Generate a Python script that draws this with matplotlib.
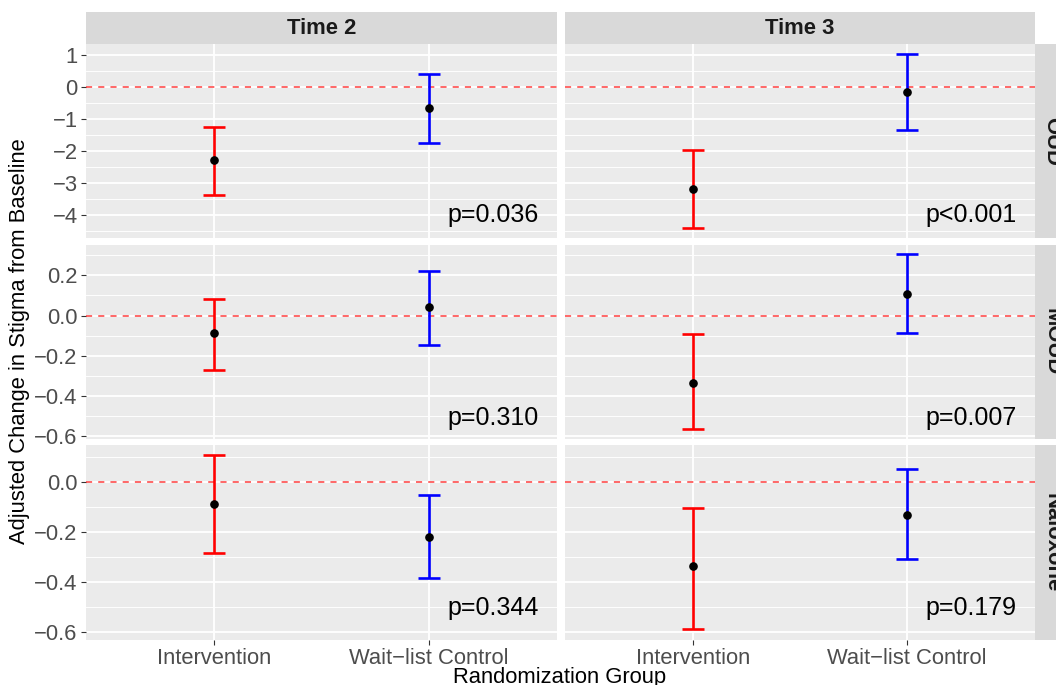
import matplotlib
matplotlib.use("Agg")
import matplotlib.pyplot as plt
from matplotlib.ticker import FixedLocator, FuncFormatter

plt.rcParams['font.family'] = ['Liberation Sans', 'DejaVu Sans']

# ---- data ----
rows = ["OUD", "MOUD", "Naloxone"]
times = ["Time 2", "Time 3"]
groups = ["Intervention", "Wait\u2212list Control"]
group_colors = ["#FF0000", "#0000FF"]

# estimates[row][time] = [Intervention, Wait-list]
est = {
    "OUD":      {"Time 2": [-2.29, -0.65],  "Time 3": [-3.19, -0.16]},
    "MOUD":     {"Time 2": [-0.089, 0.040], "Time 3": [-0.333, 0.109]},
    "Naloxone": {"Time 2": [-0.087, -0.219], "Time 3": [-0.338, -0.131]},
}
lower = {
    "OUD":      {"Time 2": [-3.38, -1.74],  "Time 3": [-4.40, -1.33]},
    "MOUD":     {"Time 2": [-0.273, -0.144], "Time 3": [-0.566, -0.089]},
    "Naloxone": {"Time 2": [-0.286, -0.385], "Time 3": [-0.588, -0.310]},
}
upper = {
    "OUD":      {"Time 2": [-1.24, 0.40],   "Time 3": [-1.98, 1.02]},
    "MOUD":     {"Time 2": [0.080, 0.219],  "Time 3": [-0.094, 0.308]},
    "Naloxone": {"Time 2": [0.107, -0.052], "Time 3": [-0.103, 0.052]},
}
pvals = {
    "OUD":      {"Time 2": "p=0.036", "Time 3": "p<0.001"},
    "MOUD":     {"Time 2": "p=0.310", "Time 3": "p=0.007"},
    "Naloxone": {"Time 2": "p=0.344", "Time 3": "p=0.179"},
}
p_y = {"OUD": -4.0, "MOUD": -0.51, "Naloxone": -0.505}

yticks = {
    "OUD": [-4, -3, -2, -1, 0, 1],
    "MOUD": [-0.6, -0.4, -0.2, 0.0, 0.2],
    "Naloxone": [-0.6, -0.4, -0.2, 0.0],
}
yminor = {
    "OUD": [-4.5, -3.5, -2.5, -1.5, -0.5, 0.5],
    "MOUD": [-0.5, -0.3, -0.1, 0.1, 0.3],
    "Naloxone": [-0.5, -0.3, -0.1, 0.1],
}
ylims = {"OUD": (-4.71, 1.34), "MOUD": (-0.611, 0.353), "Naloxone": (-0.632, 0.147)}
yfmt = {"OUD": "{:.0f}", "MOUD": "{:.1f}", "Naloxone": "{:.1f}"}

# ---- layout (pixels) ----
W, H = 1056, 685
fig = plt.figure(figsize=(W / 100, H / 100), dpi=100)

def ax_px(x0, y0, x1, y1):
    return fig.add_axes([x0 / W, 1 - y1 / H, (x1 - x0) / W, (y1 - y0) / H])

col_x = [(86, 557), (565, 1035)]
row_y = [(44, 238), (244.5, 438.5), (445, 640)]
strip_top = (12, 44)
strip_right = (1035, 1068)

BG = "#EBEBEB"
STRIP = "#D9D9D9"
TICK_FS = 15.8
TITLE_FS = 15.8

for ri, r in enumerate(rows):
    for ci, t in enumerate(times):
        x0, x1 = col_x[ci]
        y0, y1 = row_y[ri]
        ax = ax_px(x0, y0, x1, y1)
        ax.set_facecolor(BG)
        for s in ax.spines.values():
            s.set_visible(False)
        ax.set_xlim(0.4, 2.6)
        ax.set_ylim(*ylims[r])
        ax.yaxis.set_major_locator(FixedLocator(yticks[r]))
        ax.yaxis.set_minor_locator(FixedLocator(yminor[r]))
        ax.xaxis.set_major_locator(FixedLocator([1, 2]))
        ax.grid(which="major", color="white", lw=1.3, zorder=0)
        ax.grid(which="minor", axis="y", color="white", lw=0.65, zorder=0)
        ax.set_axisbelow(True)
        ax.axhline(0, color="#FF0000", lw=1.1, ls=(0, (4, 4)), alpha=0.75, zorder=1)

        xs = [1, 2]
        for gi in range(2):
            e = est[r][t][gi]
            lo = lower[r][t][gi]
            hi = upper[r][t][gi]
            ax.errorbar([xs[gi]], [e], yerr=[[e - lo], [hi - e]], fmt="none",
                        ecolor=group_colors[gi], elinewidth=1.9, capsize=7.6,
                        capthick=1.9, zorder=3)
            ax.plot([xs[gi]], [e], "o", color="black", ms=5.2, zorder=4)

        ax.text(2.3, p_y[r], pvals[r][t], fontsize=18, color="black",
                ha="center", va="center", zorder=5)

        ax.tick_params(axis="both", which="major", length=3.5, width=0.8,
                       color="#333333", labelcolor="#4D4D4D", labelsize=TICK_FS, pad=2.5)
        ax.tick_params(axis="both", which="minor", length=0)
        if ci == 0:
            ax.yaxis.set_major_formatter(FuncFormatter(
                lambda v, p, f=yfmt[r]: f.format(0.0 if abs(v) < 1e-9 else v).replace("-", "\u2212")))
        else:
            ax.tick_params(axis="y", which="major", length=0, labelleft=False)
        if ri == len(rows) - 1:
            ax.set_xticklabels(groups)
        else:
            ax.tick_params(axis="x", which="major", length=0, labelbottom=False)

# top strips
for ci, t in enumerate(times):
    x0, x1 = col_x[ci]
    sax = ax_px(x0, strip_top[0], x1, strip_top[1])
    sax.set_facecolor(STRIP)
    sax.set_xticks([]); sax.set_yticks([])
    for s in sax.spines.values():
        s.set_visible(False)
    sax.text(0.5, 0.5, t, transform=sax.transAxes, ha="center", va="center",
             fontsize=TITLE_FS, fontweight="bold", color="#1A1A1A")

# right strips (partly cut off by the figure edge, as in the reference)
for ri, r in enumerate(rows):
    y0, y1 = row_y[ri]
    sax = ax_px(strip_right[0], y0, strip_right[1], y1)
    sax.set_facecolor(STRIP)
    sax.set_xticks([]); sax.set_yticks([])
    for s in sax.spines.values():
        s.set_visible(False)
    sax.text(0.5, 0.5, r, transform=sax.transAxes, ha="center", va="center",
             rotation=-90, fontsize=TITLE_FS, fontweight="bold", color="#1A1A1A")

# axis titles
fig.text(560 / W, 1 - 677 / H, "Randomization Group", ha="center", va="center",
         fontsize=TITLE_FS, color="black")
fig.text(20 / W, 1 - 341 / H, "Adjusted Change in Stigma from Baseline",
         ha="center", va="center", rotation=90, fontsize=TITLE_FS, color="black")

fig.savefig("out.png", dpi=100)
